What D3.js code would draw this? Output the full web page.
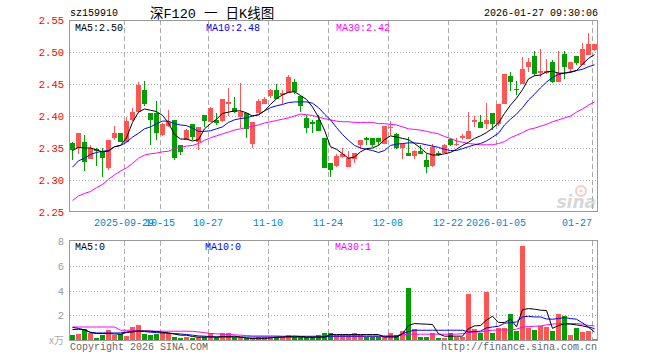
<!DOCTYPE html>
<html><head><meta charset="utf-8">
<script src="https://cdn.jsdelivr.net/npm/d3@7"></script>
<style>body{margin:0;background:#fff}svg{display:block}</style>
</head><body><svg id="c" width="660" height="360"></svg>
<script>
const dates = ["2025-09-16","2025-09-17","2025-09-18","2025-09-19","2025-09-22","2025-09-23","2025-09-24","2025-09-25","2025-09-26","2025-09-29","2025-09-30",
"2025-10-09","2025-10-10","2025-10-13","2025-10-14","2025-10-15","2025-10-16","2025-10-17","2025-10-20","2025-10-21","2025-10-22","2025-10-23","2025-10-24","2025-10-27","2025-10-28","2025-10-29","2025-10-30","2025-10-31",
"2025-11-03","2025-11-04","2025-11-05","2025-11-06","2025-11-07","2025-11-10","2025-11-11","2025-11-12","2025-11-13","2025-11-14","2025-11-17","2025-11-18","2025-11-19","2025-11-20","2025-11-21","2025-11-24","2025-11-25","2025-11-26","2025-11-27","2025-11-28",
"2025-12-01","2025-12-02","2025-12-03","2025-12-04","2025-12-05","2025-12-08","2025-12-09","2025-12-10","2025-12-11","2025-12-12","2025-12-15","2025-12-16","2025-12-17","2025-12-18","2025-12-19","2025-12-22","2025-12-23","2025-12-24","2025-12-25","2025-12-26","2025-12-29","2025-12-30","2025-12-31",
"2026-01-05","2026-01-06","2026-01-07","2026-01-08","2026-01-09","2026-01-12","2026-01-13","2026-01-14","2026-01-15","2026-01-16","2026-01-19","2026-01-20","2026-01-21","2026-01-22","2026-01-23","2026-01-26","2026-01-27"];

const open = [2.358,2.350,2.360,2.333,2.349,2.343,2.318,2.365,2.374,2.360,2.393,2.407,2.441,2.404,2.404,
2.371,2.385,2.393,2.354,2.363,2.387,2.359,2.401,2.391,2.394,2.392,2.419,2.413,2.398,
2.404,2.357,2.404,2.418,2.432,2.440,2.433,2.436,2.453,2.431,2.397,2.391,2.393,2.365,2.326,
2.322,2.336,2.321,2.333,2.354,2.365,2.366,2.365,2.357,2.381,2.372,2.350,2.342,2.338,2.346,
2.332,2.322,2.342,2.342,2.364,2.354,2.365,2.364,2.391,2.390,2.387,2.404,2.387,2.419,
2.463,2.442,2.450,2.476,2.493,2.467,2.467,2.485,2.453,2.497,2.474,2.493,2.479,2.496,2.503];
const high = [2.359,2.374,2.370,2.355,2.350,2.350,2.363,2.385,2.374,2.399,2.413,2.453,2.454,2.405,2.424,
2.389,2.410,2.394,2.354,2.380,2.387,2.383,2.401,2.414,2.405,2.427,2.443,2.429,2.452,
2.404,2.390,2.426,2.430,2.442,2.450,2.441,2.464,2.458,2.431,2.401,2.393,2.401,2.365,2.326,
2.340,2.350,2.346,2.342,2.363,2.367,2.366,2.365,2.385,2.392,2.373,2.357,2.367,2.347,2.354,
2.341,2.356,2.345,2.356,2.366,2.365,2.372,2.406,2.400,2.401,2.421,2.404,2.419,2.465,
2.468,2.454,2.492,2.491,2.502,2.504,2.489,2.487,2.502,2.502,2.485,2.493,2.514,2.530,2.512];
const low = [2.331,2.341,2.314,2.333,2.322,2.304,2.316,2.363,2.360,2.359,2.392,2.406,2.415,2.355,2.363,
2.368,2.383,2.332,2.339,2.362,2.363,2.347,2.383,2.390,2.386,2.391,2.400,2.405,2.381,
2.365,2.350,2.404,2.418,2.428,2.426,2.418,2.436,2.434,2.407,2.373,2.373,2.376,2.318,2.304,
2.320,2.334,2.321,2.326,2.349,2.355,2.352,2.355,2.356,2.371,2.348,2.333,2.337,2.333,2.340,
2.311,2.321,2.337,2.342,2.353,2.353,2.362,2.364,2.383,2.381,2.379,2.378,2.385,2.419,
2.439,2.433,2.450,2.469,2.462,2.461,2.466,2.452,2.453,2.458,2.467,2.480,2.479,2.496,2.501];
const close = [2.347,2.374,2.328,2.350,2.346,2.335,2.363,2.374,2.360,2.392,2.407,2.449,2.418,2.394,2.373,
2.388,2.390,2.334,2.344,2.378,2.367,2.383,2.392,2.412,2.389,2.427,2.422,2.406,2.407,
2.380,2.390,2.424,2.426,2.440,2.427,2.436,2.461,2.437,2.416,2.382,2.388,2.376,2.318,2.315,
2.338,2.341,2.334,2.342,2.363,2.362,2.354,2.360,2.385,2.383,2.350,2.356,2.337,2.346,2.341,
2.321,2.352,2.339,2.355,2.354,2.357,2.369,2.376,2.393,2.382,2.393,2.388,2.419,2.465,
2.453,2.440,2.474,2.484,2.466,2.470,2.471,2.453,2.467,2.476,2.484,2.483,2.505,2.512,2.512];

const ma5 = [2.346,2.351,2.350,2.350,2.347,2.344,2.345,2.352,2.354,2.366,2.390,2.406,2.411,2.409,2.407,
2.401,2.389,2.371,2.364,2.364,2.361,2.363,2.380,2.388,2.395,2.404,2.406,2.408,2.408,
2.405,2.400,2.402,2.408,2.418,2.427,2.433,2.437,2.438,2.432,2.426,2.414,2.398,2.378,2.352,
2.348,2.341,2.334,2.336,2.344,2.349,2.350,2.354,2.363,2.369,2.367,2.365,2.363,2.357,2.350,
2.342,2.339,2.339,2.341,2.343,2.348,2.354,2.359,2.365,2.369,2.374,2.381,2.389,2.404,
2.417,2.428,2.441,2.458,2.463,2.464,2.469,2.470,2.467,2.467,2.469,2.471,2.481,2.490,2.496];
const ma10 = [2.320,2.330,2.334,2.340,2.343,2.345,2.346,2.352,2.354,2.359,2.367,2.373,2.380,2.383,2.388,
2.392,2.392,2.388,2.386,2.385,2.381,2.376,2.376,2.377,2.380,2.383,2.390,2.394,2.396,
2.397,2.400,2.402,2.408,2.413,2.416,2.418,2.421,2.422,2.422,2.422,2.420,2.413,2.403,2.394,
2.382,2.371,2.362,2.354,2.350,2.348,2.346,2.343,2.346,2.354,2.356,2.357,2.358,2.358,2.357,
2.355,2.353,2.351,2.348,2.346,2.346,2.349,2.352,2.355,2.357,2.361,2.367,2.373,2.386,
2.395,2.403,2.413,2.425,2.434,2.444,2.453,2.460,2.465,2.467,2.468,2.471,2.473,2.477,2.480];
const ma30 = [2.268,2.275,2.279,2.282,2.288,2.293,2.301,2.308,2.314,2.319,2.326,2.334,2.339,2.341,2.342,
2.344,2.345,2.349,2.351,2.353,2.354,2.357,2.362,2.366,2.369,2.372,2.375,2.378,2.380,
2.382,2.384,2.386,2.389,2.391,2.393,2.395,2.397,2.400,2.403,2.402,2.401,2.398,2.396,2.394,
2.392,2.391,2.391,2.390,2.390,2.390,2.390,2.388,2.388,2.387,2.386,2.383,2.380,2.379,2.378,
2.376,2.374,2.372,2.368,2.365,2.361,2.359,2.357,2.356,2.355,2.355,2.355,2.357,2.360,
2.366,2.370,2.374,2.379,2.381,2.384,2.387,2.391,2.394,2.397,2.400,2.406,2.411,2.417,2.422];

const volume = [0.40,0.49,0.86,0.59,0.19,0.40,0.79,0.40,0.49,0.32,
1.02,1.19,0.49,0.40,0.49,0.65,0.54,0.27,0.19,0.27,
0.13,0.27,0.27,0.59,0.27,0.59,0.59,0.27,0.27,0.13,
0.13,0.22,0.27,0.27,0.27,0.27,0.40,0.27,0.27,0.22,
0.27,0.40,0.59,0.59,0.40,0.40,0.40,0.59,0.40,0.27,
0.27,0.27,0.27,0.59,0.40,0.73,4.23,0.86,0.27,0.27,
0.59,0.19,0.19,0.59,0.27,0.27,3.71,0.86,0.59,3.90,
0.59,0.97,0.97,2.08,0.73,7.60,0.97,0.81,1.13,1.08,
0.73,2.08,1.94,0.40,0.94,0.65,0.73,0.08];
const vma5 = [0.84,0.87,0.84,0.60,0.52,0.52,0.52,0.49,0.47,0.60,
0.65,0.73,0.73,0.71,0.68,0.63,0.57,0.47,0.39,0.39,
0.28,0.23,0.24,0.24,0.24,0.28,0.28,0.31,0.24,0.17,
0.11,0.11,0.11,0.17,0.23,0.24,0.28,0.31,0.28,0.24,
0.24,0.24,0.24,0.44,0.44,0.44,0.44,0.44,0.44,0.44,
0.44,0.44,0.24,0.24,0.24,0.50,1.17,1.33,1.30,1.28,
1.25,0.50,0.31,0.31,0.31,0.31,0.92,1.14,1.17,1.60,
1.92,1.42,1.41,1.68,1.07,2.45,2.54,2.49,2.41,2.38,
0.94,1.17,1.30,1.28,1.22,1.14,1.03,0.65];
const vma10 = [1.02,0.94,0.81,0.63,0.57,0.57,0.57,0.57,0.57,0.65,
0.71,0.71,0.68,0.63,0.60,0.57,0.55,0.52,0.49,0.44,
0.39,0.33,0.31,0.28,0.24,0.24,0.24,0.24,0.24,0.24,
0.24,0.24,0.24,0.24,0.24,0.24,0.24,0.24,0.24,0.24,
0.24,0.24,0.24,0.31,0.31,0.31,0.31,0.31,0.31,0.31,
0.31,0.31,0.31,0.31,0.31,0.52,0.68,0.79,0.79,0.79,
0.79,0.79,0.79,0.79,0.79,0.79,0.65,0.68,0.71,0.98,
1.05,1.11,1.35,1.41,1.46,1.86,1.92,1.86,1.86,1.70,
1.68,1.73,1.81,1.73,1.68,1.38,1.05,0.92];
const vma30 = [1.05,1.05,1.05,1.05,1.05,1.05,1.05,1.05,0.79,0.79,
0.79,0.73,0.73,0.73,0.71,0.71,0.71,0.71,0.71,0.71,
0.70,0.65,0.60,0.52,0.50,0.47,0.44,0.42,0.39,0.36,
0.33,0.33,0.33,0.33,0.33,0.31,0.31,0.31,0.31,0.31,
0.31,0.31,0.31,0.31,0.31,0.31,0.31,0.31,0.31,0.31,
0.31,0.31,0.31,0.31,0.31,0.41,0.47,0.47,0.47,0.47,
0.47,0.47,0.47,0.47,0.47,0.52,0.60,0.65,0.65,0.73,
0.79,0.81,0.81,0.81,0.87,1.05,1.08,1.11,1.14,1.22,
1.28,1.33,1.33,1.33,1.33,1.28,1.17,1.14];

const priceTicks = [2.55,2.50,2.45,2.40,2.35,2.30,2.25];
const volTicks = [8,6,4,2];
const tickDates = ["2025-09-29","2025-10-15","2025-10-27","2025-11-10","2025-11-24","2025-12-08","2025-12-22","2026-01-05","2026-01-27"];
const tickLabels = ["2025-09-29","10-15","10-27","11-10","11-24","12-08","12-22","2026-01-05","01-27"];

const C = {red:"#ff5555", green:"#00a000", grid:"#aaaaaa", frame:"#999999", axisRed:"#ff0000", xlab:"#0088cc", ma5:"#000000", ma10:"#0000ff", ma30:"#ff00ff"};
const MONO = "'Liberation Mono','DejaVu Sans Mono',monospace";
const FS = 10;

const svg = d3.select("#c");
const L = 69.5, R = 597.5;
const P = {top:20, bottom:212};
const V = {top:241, bottom:340};

const x = d3.scaleBand().domain(dates).range([70, 598]).paddingInner(1/6).paddingOuter(1/12).align(0);
const y = d3.scaleLinear().domain([2.25, 2.55]).range([P.bottom, P.top]);
const yv = d3.scaleLinear().domain([0, 8]).range([V.bottom, V.top]);
const cx = d => x(d) + x.bandwidth()/2;

// header
svg.append("text").attr("x",70).attr("y",16).attr("font-family",MONO).attr("font-size",FS).attr("fill","#000").text("sz159910");
svg.append("text").attr("x",150).attr("y",18).attr("font-family","'Liberation Mono','Noto Sans CJK SC',monospace").attr("font-size",13.5).attr("fill","#000").text("深F120 一 日K线图");
svg.append("text").attr("x",598).attr("y",16).attr("text-anchor","end").attr("font-family",MONO).attr("font-size",FS).attr("fill","#000").text("2026-01-27 09:30:06");

// grids
const gP = svg.append("g").attr("shape-rendering","crispEdges");
priceTicks.slice(1,-1).forEach(t=>{
  gP.append("line").attr("x1",L).attr("x2",R).attr("y1",Math.round(y(t))+0.5).attr("y2",Math.round(y(t))+0.5)
    .attr("stroke",C.grid).attr("stroke-dasharray","1,2");
});
volTicks.slice(1).forEach(t=>{
  gP.append("line").attr("x1",L).attr("x2",R).attr("y1",Math.round(yv(t))+0.5).attr("y2",Math.round(yv(t))+0.5)
    .attr("stroke",C.grid).attr("stroke-dasharray","1,2");
});
tickDates.forEach(d=>{
  const xx = Math.round(x(d))+0.5;
  gP.append("line").attr("x1",xx).attr("x2",xx).attr("y1",P.top).attr("y2",P.bottom).attr("stroke",C.grid).attr("stroke-dasharray","5,3");
  gP.append("line").attr("x1",xx).attr("x2",xx).attr("y1",V.top).attr("y2",V.bottom).attr("stroke",C.grid).attr("stroke-dasharray","5,3");
});

// watermark
const wm = svg.append("g").attr("opacity",0.55);
wm.append("circle").attr("cx",581).attr("cy",191).attr("r",5).attr("fill","none").attr("stroke","#f4a0a0").attr("stroke-width",2);
wm.append("circle").attr("cx",581).attr("cy",191).attr("r",1.5).attr("fill","#f4a0a0");
wm.append("text").attr("x",596).attr("y",208).attr("text-anchor","end").attr("font-family","'DejaVu Sans',sans-serif")
  .attr("font-style","italic").attr("font-weight","bold").attr("font-size",17).attr("fill","#b8b8b8").text("sina");

// frames
const gF = svg.append("g").attr("shape-rendering","crispEdges").attr("fill","none").attr("stroke",C.frame);
gF.append("rect").attr("x",L).attr("y",P.top+0.5).attr("width",R-L).attr("height",P.bottom-P.top-1);
gF.append("rect").attr("x",L).attr("y",V.top-0.5).attr("width",R-L).attr("height",V.bottom-V.top+0.5);

// y labels
const gY = svg.append("g").attr("font-family",MONO).attr("font-size",FS+0.5);
priceTicks.forEach(t=>{
  gY.append("text").attr("x",64).attr("y",y(t)+4).attr("text-anchor","end").attr("fill",C.axisRed).text(t.toFixed(2));
});
volTicks.forEach(t=>{
  gY.append("text").attr("x",64).attr("y",yv(t)+4).attr("text-anchor","end").attr("fill","#999").text(t);
});
gY.append("text").attr("x",64).attr("y",344).attr("text-anchor","end").attr("fill","#aaa").attr("font-family","'Noto Sans CJK SC',sans-serif").attr("font-size",10).text("x万");

// x labels
tickDates.forEach((d,i)=>{
  const t = svg.append("text").attr("y",226).attr("font-family",MONO).attr("font-size",FS).attr("fill",C.xlab).text(tickLabels[i]);
  const xx = x(d);
  if (i === tickDates.length-1) t.attr("x",xx).attr("text-anchor","end");
  else t.attr("x",xx).attr("text-anchor","middle");
});

// candles
const gC = svg.append("g").attr("shape-rendering","crispEdges");
dates.forEach((d,i)=>{
  const up = close[i] >= open[i];
  const col = up ? C.red : C.green;
  gC.append("line").attr("x1",Math.floor(cx(d))+0.5).attr("x2",Math.floor(cx(d))+0.5)
    .attr("y1",y(high[i])).attr("y2",y(low[i])).attr("stroke",col);
  const top = y(Math.max(open[i],close[i])), bot = y(Math.min(open[i],close[i]));
  gC.append("rect").attr("x",x(d)).attr("width",x.bandwidth()).attr("y",top).attr("height",Math.max(1,bot-top)).attr("fill",col);
  gC.append("rect").attr("x",x(d)).attr("width",x.bandwidth()).attr("y",yv(volume[i])).attr("height",yv(0)-yv(volume[i])).attr("fill",col);
});

// MA lines
const lineP = d3.line().x((v,i)=>cx(dates[i])).y(v=>y(v));
const lineV = d3.line().x((v,i)=>cx(dates[i])).y(v=>yv(v));
[[ma30,C.ma30],[ma10,C.ma10],[ma5,C.ma5]].forEach(([arr,col])=>{
  svg.append("path").attr("d",lineP(arr)).attr("fill","none").attr("stroke",col).attr("stroke-width",1);
});
[[vma30,C.ma30],[vma10,C.ma10],[vma5,C.ma5]].forEach(([arr,col])=>{
  svg.append("path").attr("d",lineV(arr)).attr("fill","none").attr("stroke",col).attr("stroke-width",1);
});

// legends
const leg = (xx,yy,txt,col)=>svg.append("text").attr("x",xx).attr("y",yy).attr("font-family",MONO).attr("font-size",FS).attr("fill",col).text(txt);
leg(75,31,"MA5:"+ma5[ma5.length-1].toFixed(2),C.ma5);
leg(206,31,"MA10:"+ma10[ma10.length-1].toFixed(2),C.ma10);
leg(336,31,"MA30:"+ma30[ma30.length-1].toFixed(2),C.ma30);
leg(75,250,"MA5:0",C.ma5);
leg(205,250,"MA10:0",C.ma10);
leg(335,250,"MA30:1",C.ma30);

// footer
svg.append("text").attr("x",70).attr("y",350).attr("font-family",MONO).attr("font-size",FS).attr("fill","#666").text("Copyright 2026 SINA.COM");
svg.append("text").attr("x",597).attr("y",350).attr("text-anchor","end").attr("font-family",MONO).attr("font-size",FS).attr("fill","#666").text("http://finance.sina.com.cn");
</script></body></html>
